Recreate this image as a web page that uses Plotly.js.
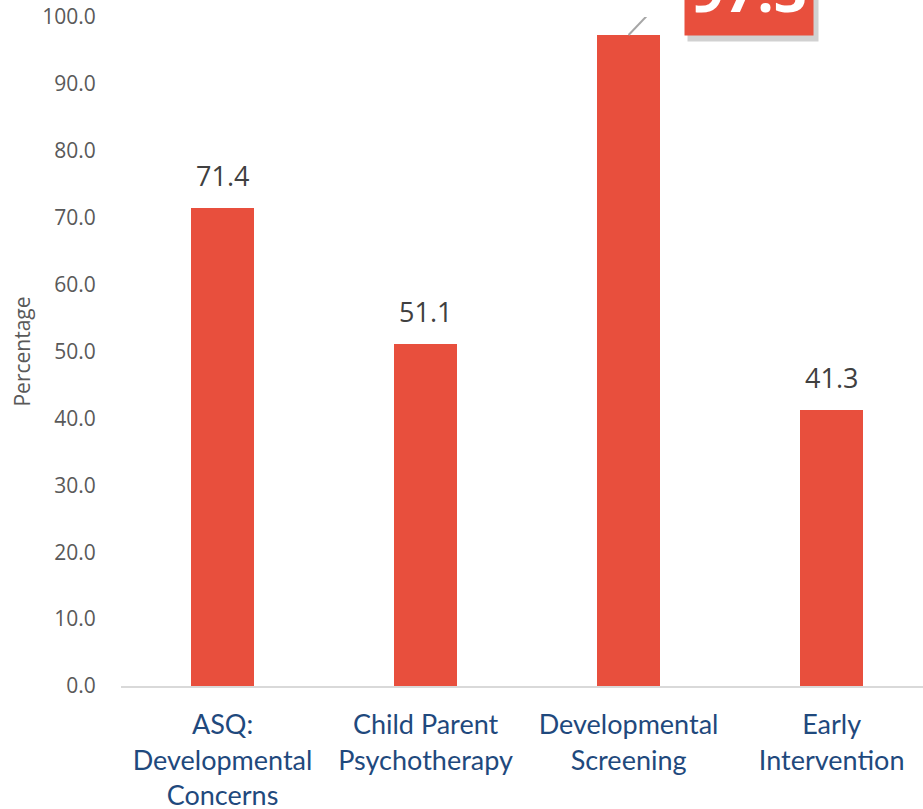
<!DOCTYPE html>
<html>
<head>
<meta charset="utf-8">
<script src="https://cdn.plot.ly/plotly-3.0.1.min.js"></script>
<style>html,body{margin:0;padding:0;background:#fff;}#chart{width:923px;height:809px;}</style>
</head>
<body>
<div id="chart"></div>
<script>
const categories = ["ASQ:<br>Developmental<br>Concerns", "Child Parent<br>Psychotherapy", "Developmental<br>Screening", "Early<br>Intervention"];
const values = [71.4, 51.1, 97.3, 41.3];
const tickVals = [0, 10, 20, 30, 40, 50, 60, 70, 80, 90, 100];
const tickText = ["0.0", "10.0", "20.0", "30.0", "40.0", "50.0", "60.0", "70.0", "80.0", "90.0", "100.0"];
const highlightIndex = 2;

const xIdx = categories.map((c, i) => i);

const trace = {
  type: "bar",
  x: xIdx,
  y: values,
  width: 0.31,
  marker: {color: "#E84F3D"},
  cliponaxis: false,
  hoverinfo: "none"
};

const valueLabels = values.map((v, i) => ({
  xref: "x", yref: "y", x: i, y: v,
  text: v.toFixed(1), showarrow: false,
  yanchor: "bottom", yshift: 12,
  font: {family: "Open Sans", size: 27, color: "#404040"}
})).filter((a, i) => i !== highlightIndex);

const layout = {
  width: 923, height: 809,
  margin: {l: 121, r: 0, t: 17, b: 123},
  paper_bgcolor: "#fff", plot_bgcolor: "#fff",
  showlegend: false,
  bargap: 0,
  xaxis: {
    range: [-0.5, 3.45],
    tickvals: xIdx,
    ticktext: categories,
    showgrid: false, zeroline: false,
    showline: true, linecolor: "#D9D9D9", linewidth: 2,
    ticks: "outside", ticklen: 14, tickcolor: "rgba(0,0,0,0)",
    tickfont: {family: "Lato", size: 27, color: "#1F497D"}
  },
  yaxis: {
    range: [0, 100],
    tickvals: tickVals,
    ticktext: tickText,
    showgrid: false, zeroline: false, showline: false,
    ticks: "outside", ticklen: 20, tickcolor: "rgba(0,0,0,0)",
    tickfont: {family: "Open Sans", size: 21, color: "#595959"},
    title: {text: "Percentage", font: {family: "Open Sans", size: 21, color: "#595959"}, standoff: 5}
  },
  shapes: [{
    type: "line",
    xref: "x", yref: "y",
    xsizemode: "pixel", ysizemode: "pixel",
    xanchor: highlightIndex, yanchor: values[highlightIndex],
    x0: 0, x1: 38, y0: 0, y1: 40,
    line: {color: "#A6A6A6", width: 2}
  }],
  annotations: valueLabels.concat([
    {
      xref: "x", yref: "y", x: highlightIndex, y: values[highlightIndex],
      showarrow: false, xshift: 124, yshift: 41,
      text: "<b>" + values[highlightIndex].toFixed(1) + "</b>",
      font: {family: "Open Sans", size: 58, color: "rgba(0,0,0,0)"},
      bgcolor: "rgba(0,0,0,0.18)", borderpad: 7
    },
    {
      xref: "x", yref: "y", x: highlightIndex, y: values[highlightIndex],
      showarrow: false, xshift: 120, yshift: 46,
      text: "<b>" + values[highlightIndex].toFixed(1) + "</b>",
      font: {family: "Open Sans", size: 58, color: "#FFFFFF"},
      bgcolor: "#E84F3D", borderpad: 6
    }
  ])
};

Plotly.newPlot("chart", [trace], layout, {displayModeBar: false, staticPlot: true});
</script>
</body>
</html>
